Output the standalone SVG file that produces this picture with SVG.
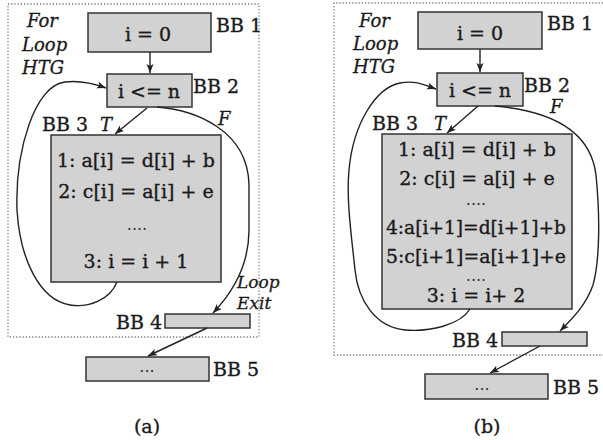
<svg xmlns="http://www.w3.org/2000/svg" width="603" height="440" viewBox="0 0 603 440">
<style>
.bg{fill:#ffffff}
.frame{fill:none;stroke:#777;stroke-width:1.3;stroke-dasharray:1.2 2}
.box{fill:#d2d2d2;stroke:#333;stroke-width:1.5}
.t{font-family:"DejaVu Serif","Liberation Serif",serif;font-size:19px;fill:#1a1a1a;stroke:#1a1a1a;stroke-width:0.35}
.m{text-anchor:middle}
.it{font-family:"DejaVu Serif","Liberation Serif",serif;font-style:italic;font-size:18px;fill:#1a1a1a;stroke:#1a1a1a;stroke-width:0.3}
.sm{font-size:17px}
.dots{font-family:"DejaVu Serif","Liberation Serif",serif;font-size:16px;fill:#333;text-anchor:middle}
.edge{fill:none;stroke:#222;stroke-width:1.4}
</style>
<defs>
<marker id="ah" markerUnits="userSpaceOnUse" markerWidth="10" markerHeight="8" refX="9" refY="4" orient="auto">
<path d="M0,0.5 L9,4 L0,7.5 L2,4 z" fill="#222"/>
</marker>
</defs>
<rect class="bg" x="0" y="0" width="603" height="440"/>

<!-- Panel (a) -->
<g id="frameA">
<rect class="frame" x="8" y="4" width="251" height="333"/>
<text class="it" x="27" y="27">For</text>
<text class="it" x="22" y="51">Loop</text>
<text class="it" x="22" y="74">HTG</text>
</g>
<g id="a_BB1">
<rect class="box" x="88" y="13" width="123" height="39"/>
<text class="t m" x="148" y="41">i = 0</text>
<text class="t" x="216" y="32">BB 1</text>
</g>
<g id="a_BB2">
<rect class="box" x="107" y="74" width="85" height="33"/>
<text class="t m" x="149" y="98">i &lt;= n</text>
<text class="t" x="193" y="93">BB 2</text>
</g>
<g id="a_BB3">
<rect class="box" x="51" y="135" width="170" height="147"/>
<text class="t" x="42" y="131">BB 3</text>
<text class="t m" x="136" y="167">1: a[i] = d[i] + b</text>
<text class="t m" x="136" y="198">2: c[i] = a[i] + e</text>
<text class="dots" x="137" y="230">....</text>
<text class="t m" x="136" y="268">3: i = i + 1</text>
</g>
<g id="a_BB4">
<rect class="box" x="165" y="314" width="85" height="14"/>
<text class="t" x="162" y="329" text-anchor="end">BB 4</text>
</g>
<g id="a_BB5">
<rect class="box" x="86" y="357" width="123" height="24"/>
<text class="dots" x="147" y="372">...</text>
<text class="t" x="213" y="376">BB 5</text>
</g>
<g id="a_edges">
<path class="edge" d="M150,52 L150,73" marker-end="url(#ah)"/>
<path class="edge" d="M147,108 L115,134" marker-end="url(#ah)"/>
<text class="it" x="100" y="131">T</text>
<path class="edge" d="M157,107 C195,110 248,130 249,185 L249,230 C249,262 235,290 213,313" marker-end="url(#ah)"/>
<text class="it" x="218" y="125">F</text>
<text class="it sm" x="237" y="288">Loop</text>
<text class="it sm" x="237" y="309">Exit</text>
<path class="edge" d="M117,282 C110,300 88,308 70,305 C40,300 20,260 17,210 C15,150 35,85 65,82 C82,80 95,84 106,88" marker-end="url(#ah)"/>
<path class="edge" d="M207,328 L148,356" marker-end="url(#ah)"/>
</g>
<text class="t m" x="147" y="433" id="labelA">(a)</text>

<!-- Panel (b) -->
<g id="frameB">
<path class="frame" d="M603,3 L334,3 L334,355 L603,355"/>
<text class="it" x="359" y="27">For</text>
<text class="it" x="353" y="50">Loop</text>
<text class="it" x="353" y="73">HTG</text>
</g>
<g id="b_BB1">
<rect class="box" x="418" y="12" width="124" height="37"/>
<text class="t m" x="480" y="40">i = 0</text>
<text class="t" x="547" y="30">BB 1</text>
</g>
<g id="b_BB2">
<rect class="box" x="437" y="73" width="86" height="33"/>
<text class="t m" x="480" y="97">i &lt;= n</text>
<text class="t" x="524" y="92">BB 2</text>
</g>
<g id="b_BB3">
<rect class="box" x="382" y="134" width="190" height="175"/>
<text class="t" x="372" y="130">BB 3</text>
<text class="t m" x="477" y="156">1: a[i] = d[i] + b</text>
<text class="t m" x="477" y="185">2: c[i] = a[i] + e</text>
<text class="dots" x="476" y="205">....</text>
<text class="t m" x="476" y="234" textLength="180" lengthAdjust="spacingAndGlyphs">4:a[i+1]=d[i+1]+b</text>
<text class="t m" x="476" y="263" textLength="180" lengthAdjust="spacingAndGlyphs">5:c[i+1]=a[i+1]+e</text>
<text class="dots" x="476" y="281">....</text>
<text class="t m" x="476" y="302">3: i = i+ 2</text>
</g>
<g id="b_BB4">
<rect class="box" x="502" y="332" width="85" height="14"/>
<text class="t" x="498" y="347" text-anchor="end">BB 4</text>
</g>
<g id="b_BB5">
<rect class="box" x="425" y="374" width="123" height="25"/>
<text class="dots" x="482" y="390">...</text>
<text class="t" x="553" y="394">BB 5</text>
</g>
<g id="b_edges">
<path class="edge" d="M480,49 L480,72" marker-end="url(#ah)"/>
<path class="edge" d="M478,106 L447,133" marker-end="url(#ah)"/>
<text class="it" x="434" y="130">T</text>
<path class="edge" d="M495,106 C540,110 590,125 596,175 C600,215 600,260 593,285 C586,305 573,318 560,331" marker-end="url(#ah)"/>
<text class="it" x="550" y="113">F</text>
<path class="edge" d="M470,309 C460,325 430,332 405,330 C375,327 358,300 355,270 C352,240 346,200 349,170 C353,125 375,88 400,83 C415,80 425,85 436,89" marker-end="url(#ah)"/>
<path class="edge" d="M540,346 L490,373" marker-end="url(#ah)"/>
</g>
<text class="t m" x="487" y="433" id="labelB">(b)</text>
</svg>
